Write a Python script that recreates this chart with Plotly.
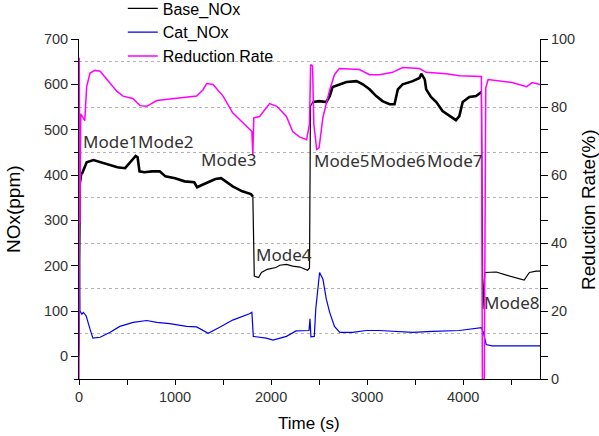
import numpy as np
import plotly.graph_objects as go

# ---------------- data ----------------
base_t = [0, 15, 30, 80, 150, 300, 400, 480, 560, 590, 610, 630, 680, 760, 840, 900,
          1000, 1100, 1200, 1230, 1280, 1350, 1420, 1480, 1530, 1600, 1700, 1790, 1810,
          1815, 1825, 1870, 1900, 1960, 2050, 2090, 2160, 2225, 2300, 2380, 2400, 2410,
          2435, 2505, 2575, 2610, 2640, 2715, 2785, 2890, 2955, 3025, 3095, 3160, 3235,
          3285, 3320, 3370, 3475, 3545, 3565, 3600, 3615, 3665, 3720, 3785, 3855, 3925,
          3960, 3995, 4065, 4135, 4190, 4205, 4225, 4240, 4345, 4450, 4555, 4635, 4690,
          4760, 4800]
base_nox = [0, 380, 402, 428, 433, 424, 417, 415, 433, 442, 439, 408, 406, 408, 408, 397,
            393, 386, 384, 373, 378, 384, 391, 393, 386, 375, 364, 358, 353,
            300, 177, 174, 185, 192, 196, 201, 203, 199, 197, 190, 195, 552,
            561, 563, 561, 574, 594, 600, 605, 607, 600, 589, 574, 563, 556,
            556, 589, 600, 607, 614, 623, 611, 589, 572, 561, 541, 530, 521,
            530, 561, 572, 574, 583, 104, 185, 185, 186, 179, 172, 168, 185,
            188, 188]

cat_t = [0, 5, 10, 30, 45, 75, 115, 145, 220, 325, 425, 565, 705, 810, 945, 1120, 1225,
         1345, 1465, 1600, 1775, 1800, 1815, 1950, 2020, 2160, 2260, 2300, 2395, 2405,
         2415, 2450, 2465, 2505, 2540, 2575, 2610, 2660, 2715, 2850, 2990, 3130, 3340,
         3475, 3680, 3960, 4190, 4210, 4240, 4300, 4800]
cat_nox = [20, 205, 100, 93, 97, 89, 60, 40, 42, 53, 66, 75, 79, 75, 72, 66, 65,
           51, 64, 80, 94, 97, 44, 40, 36, 44, 56, 56, 57, 83,
           43, 44, 104, 185, 170, 126, 97, 66, 53, 53, 57, 57, 55,
           53, 55, 57, 63, 53, 26, 23, 23]

rr_t = [0, 3, 10, 18, 60, 80, 115, 165, 220, 290, 395, 460, 560, 635, 705, 810, 915,
        1050, 1225, 1290, 1330, 1395, 1500, 1600, 1705, 1800, 1810, 1820, 1880, 1985,
        2060, 2160, 2225, 2295, 2370, 2400, 2412, 2432, 2445, 2475, 2500, 2540, 2610,
        2660, 2710, 2920, 3025, 3130, 3265, 3370, 3545, 3615, 3825, 3960, 4190, 4200,
        4220, 4235, 4260, 4375, 4510, 4660, 4720, 4800]
reduction_rate = [0, 94.5, 46, 78, 76, 86, 90, 90.8, 90.5, 88.2, 84.6, 83.2, 82.5, 80.4,
                  80.2, 81.9, 82.2, 82.5, 83.2, 85, 86.9, 86.6, 83.2, 78.3, 75.4, 72.8,
                  66, 76.8, 77.2, 81, 80.2, 77.2, 72.8, 71.2, 70.4, 75, 92.5, 92, 75,
                  67.5, 68, 77, 85, 89.5, 91.3, 91, 89.5, 89.5, 90.2, 91.6, 91.3, 90.2,
                  89.8, 89.2, 89, 0, 0, 85.6, 88.1, 87.7, 87.2, 86, 87.2, 86.6]

mode_labels = ["Mode1", "Mode2", "Mode3", "Mode4", "Mode5", "Mode6", "Mode7", "Mode8"]
mode_t = [20, 592, 1250, 1820, 2422, 3005, 3607, 4200]
mode_v = [475, 475, 435, 225, 433, 433, 433, 119]

x_ticks = [0, 1000, 2000, 3000, 4000]
left_ticks = [0, 100, 200, 300, 400, 500, 600, 700]
right_ticks = [0, 20, 40, 60, 80, 100]

# ---------------- figure ----------------
bt = np.array(base_t, dtype=float)
bv = np.array(base_nox, dtype=float)

fig = go.Figure()
fig.add_trace(go.Scatter(x=bt, y=bv, mode="lines", name="Base_NOx",
                         line=dict(color="black", width=1.2), legendgroup="b"))
for lo, hi in [(30, 1810), (2435, 4190)]:
    m = (bt >= lo) & (bt <= hi)
    fig.add_trace(go.Scatter(x=bt[m], y=bv[m], mode="lines", showlegend=False,
                             legendgroup="b", hoverinfo="skip",
                             line=dict(color="black", width=2.6)))
fig.add_trace(go.Scatter(x=cat_t, y=cat_nox, mode="lines", name="Cat_NOx",
                         line=dict(color="#0000ee", width=1.2)))
fig.add_trace(go.Scatter(x=rr_t, y=reduction_rate, mode="lines", name="Reduction Rate",
                         yaxis="y2", line=dict(color="#ff00ff", width=1.5)))

for lab, t, v in zip(mode_labels, mode_t, mode_v):
    fig.add_annotation(x=t, y=v, xref="x", yref="y", text=lab, showarrow=False,
                       xanchor="left", yanchor="middle",
                       font=dict(family="Noto Sans", size=17, color="#333333"))

tickfont = dict(family="Arial, Liberation Sans", size=14.5, color="#333333")
axis_common = dict(showline=True, linecolor="black", linewidth=1, ticks="outside",
                   tickcolor="black", tickwidth=1, showgrid=False, zeroline=False,
                   tickfont=tickfont, automargin=False)

fig.update_layout(
    width=599, height=436,
    margin=dict(l=79, r=59, t=39, b=57, autoexpand=False),
    paper_bgcolor="white", plot_bgcolor="white",
    font=dict(family="Arial, Liberation Sans", color="black"),
    xaxis=dict(range=[0, 4800], tickvals=x_ticks, ticklen=5,
               minor=dict(dtick=500, tick0=0, ticks="outside", ticklen=5,
                          tickcolor="black"),
               **axis_common),
    yaxis=dict(range=[-50, 700], tickvals=left_ticks, ticklen=7,
               minor=dict(tick0=50, dtick=100, ticks="outside", ticklen=4,
                          tickcolor="black", showgrid=True, griddash="dot",
                          gridcolor="#b4b4b4", gridwidth=1),
               **axis_common),
    yaxis2=dict(range=[0, 100], tickvals=right_ticks, ticklen=7, overlaying="y",
                side="right",
                minor=dict(tick0=0, dtick=20 / 3, ticks="outside", ticklen=7,
                           tickcolor="black"),
                **axis_common),
    legend=dict(x=0.095, y=1.14, xanchor="left", yanchor="top",
                bgcolor="rgba(0,0,0,0)", font=dict(size=16, color="black"),
                tracegroupgap=0),
    showlegend=True,
)

fig.add_annotation(text="NOx(ppm)", xref="paper", yref="paper", x=-0.143, y=0.5,
                   textangle=-90, showarrow=False, xanchor="center", yanchor="middle",
                   font=dict(size=19, color="black"))
fig.add_annotation(text="Reduction Rate(%)", xref="paper", yref="paper", x=1.104, y=0.5,
                   textangle=-90, showarrow=False, xanchor="center", yanchor="middle",
                   font=dict(size=19, color="black"))
fig.add_annotation(text="Time (s)", xref="paper", yref="paper", x=0.499, y=-0.132,
                   showarrow=False, xanchor="center", yanchor="middle",
                   font=dict(size=17, color="black"))

fig.write_html("out.html", config={"displayModeBar": False},
               post_script="document.body.style.margin='0';document.body.style.padding='0';")
